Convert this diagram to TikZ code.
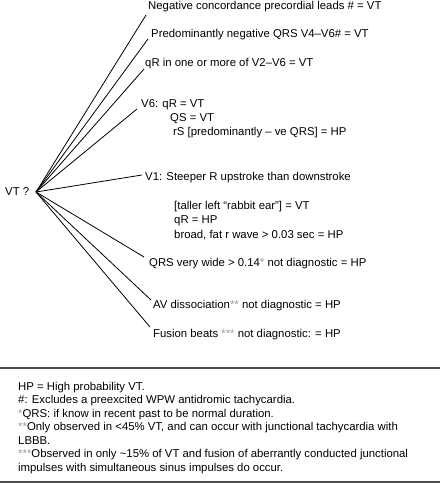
\documentclass[tikz,border=0pt]{standalone}
\usepackage{fontspec}
\setmainfont{Liberation Sans}
\definecolor{astgray}{gray}{0.6}
\definecolor{rulegray}{gray}{0.3}
\newcommand{\graystar}[1]{\textcolor{astgray}{#1}}
\begin{document}
\begin{tikzpicture}[x=1bp,y=-1bp,
  lbl/.style={anchor=base west,inner sep=0pt,font=\fontsize{11.4}{13}\selectfont},
  foot/.style={anchor=base west,inner sep=0pt,font=\fontsize{11.4}{13}\selectfont},
  branch/.style={line width=0.8bp,black},
  hrule/.style={line width=1.3bp,rulegray}]
\useasboundingbox (0,0) rectangle (440,483);
% root
\node[lbl] (vt) at (5,195) {VT ?};
\coordinate (root) at (36,192);
% branch labels
\node[lbl] (b1) at (148,10) {Negative concordance precordial leads \# = VT};
\node[lbl] (b2) at (151,38) {Predominantly negative QRS V4–V6\# = VT};
\node[lbl] (b3) at (145,67) {qR in one or more of V2–V6 = VT};
\node[lbl] (b4) at (141,108) {V6: qR = VT};
\node[lbl] (b4a) at (170,122) {QS = VT};
\node[lbl] (b4b) at (173,136) {rS [predominantly – ve QRS] = HP};
\node[lbl] (b5) at (145,181) {V1: Steeper R upstroke than downstroke};
\node[lbl] (b5a) at (174,209) {[taller left “rabbit ear”] = VT};
\node[lbl] (b5b) at (174,223) {qR = HP};
\node[lbl] (b5c) at (174,238) {broad, fat r wave > 0.03 sec = HP};
\node[lbl] (b6) at (149,266) {QRS very wide > 0.14\graystar{*} not diagnostic = HP};
\node[lbl] (b7) at (153,308) {AV dissociation\graystar{**} not diagnostic = HP};
\node[lbl] (b8) at (153,337) {Fusion beats \graystar{***} not diagnostic: = HP};
% branch ends
\coordinate (e1) at (146,15);
\coordinate (e2) at (148,39);
\coordinate (e3) at (144,69);
\coordinate (e4) at (137,109);
\coordinate (e5) at (142,175);
\coordinate (e6) at (144,257);
\coordinate (e7) at (151,300);
\coordinate (e8) at (150,327);
\foreach \e in {e1,e2,e3,e4,e5,e6,e7,e8}
  \draw[branch] (root) -- (\e);
% rules
\coordinate (r1l) at (0,368); \coordinate (r1r) at (440,368);
\coordinate (r2l) at (0,482); \coordinate (r2r) at (440,482);
\draw[hrule] (r1l) -- (r1r);
\draw[hrule] (r2l) -- (r2r);
% footnotes
\node[foot] (f1) at (18,390) {HP = High probability VT.};
\node[foot] (f2) at (18,403.5) {\#: Excludes a preexcited WPW antidromic tachycardia.};
\node[foot] (f3) at (18,417) {\graystar{*}QRS: if know in recent past to be normal duration.};
\node[foot] (f4) at (18,430.5) {\graystar{**}Only observed in <45\% VT, and can occur with junctional tachycardia with};
\node[foot] (f5) at (18,444) {LBBB.};
\node[foot] (f6) at (18,457.5) {\graystar{***}Observed in only \textasciitilde15\% of VT and fusion of aberrantly conducted junctional};
\node[foot] (f7) at (18,471) {impulses with simultaneous sinus impulses do occur.};
\end{tikzpicture}
\end{document}
